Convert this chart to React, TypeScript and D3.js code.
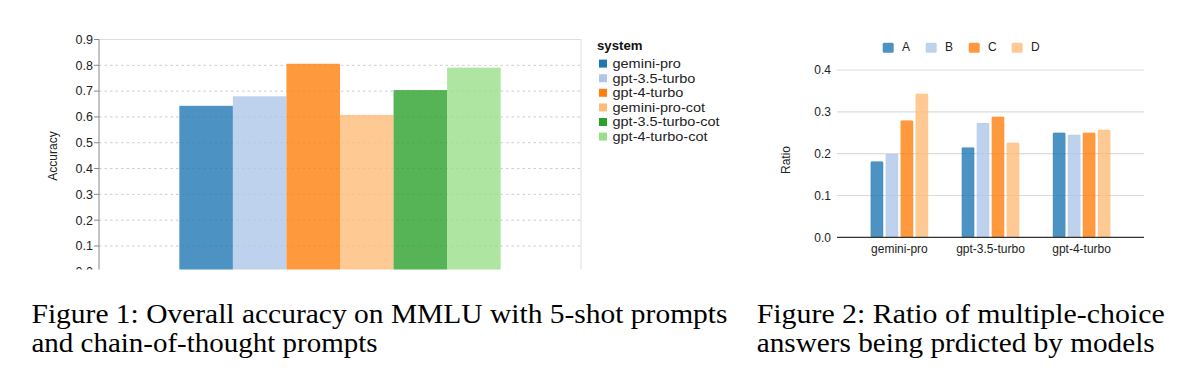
import React from 'react';
import * as d3 from 'd3';

// ---------- Figure 1 data ----------
const systems = ['gemini-pro', 'gpt-3.5-turbo', 'gpt-4-turbo', 'gemini-pro-cot', 'gpt-3.5-turbo-cot', 'gpt-4-turbo-cot'];
const accuracy = [0.643, 0.680, 0.806, 0.608, 0.704, 0.791];
const systemColors = ['#1f77b4', '#aec7e8', '#ff7f0e', '#ffbb78', '#2ca02c', '#98df8a'];
const accuracyTicks = [0, 0.1, 0.2, 0.3, 0.4, 0.5, 0.6, 0.7, 0.8, 0.9];

// ---------- Figure 2 data ----------
const models = ['gemini-pro', 'gpt-3.5-turbo', 'gpt-4-turbo'];
const choices = ['A', 'B', 'C', 'D'];
const ratioA = [0.181, 0.215, 0.250];
const ratioB = [0.199, 0.273, 0.245];
const ratioC = [0.279, 0.288, 0.250];
const ratioD = [0.343, 0.226, 0.257];
const choiceColors = ['#1f77b4', '#aec7e8', '#ff7f0e', '#ffbb78'];
const ratioTicks = [0, 0.1, 0.2, 0.3, 0.4];

const caption1 = ['Figure 1: Overall accuracy on MMLU with 5-shot prompts', 'and chain-of-thought prompts'];
const caption2 = ['Figure 2: Ratio of multiple-choice', 'answers being prdicted by models'];

const SANS = '"Liberation Sans", Arial, Helvetica, sans-serif';
const SERIF = '"Liberation Serif", "Times New Roman", serif';

function Figure1() {
  const left = 99, right = 581, top = 39.5, zeroY = 271.8, clipBottom = 269.5;
  const y = d3.scaleLinear().domain([0, 0.9]).range([zeroY, top]);
  const outer = d3.scaleBand<string>().domain(['all']).range([left, right]).paddingInner(0.2).paddingOuter(0.2);
  const inner = d3.scaleBand<string>().domain(systems).range([0, outer.bandwidth()]);
  const ox = outer('all') as number;
  const fmt = d3.format('.1f');
  return (
    <g>
      <defs>
        <clipPath id="clip1">
          <rect x={0} y={0} width={740} height={clipBottom} />
        </clipPath>
      </defs>
      <g clipPath="url(#clip1)">
        <line x1={left} x2={right} y1={top} y2={top} stroke="#ddd" />
        <line x1={right} x2={right} y1={top} y2={zeroY} stroke="#ddd" />
        {accuracyTicks.filter(t => t > 0 && t < 0.9).map(t => (
          <line key={t} x1={left} x2={right} y1={y(t)} y2={y(t)} stroke="#ccc" strokeDasharray="2.5,3" />
        ))}
        {systems.map((s, i) => (
          <rect key={s} x={ox + (inner(s) as number)} width={inner.bandwidth()} y={y(accuracy[i])}
            height={zeroY - y(accuracy[i])} fill={systemColors[i]} fillOpacity={0.8} />
        ))}
        <line x1={left} x2={left} y1={top} y2={zeroY} stroke="#888" />
        {accuracyTicks.map(t => (
          <g key={t}>
            <line x1={left - 5} x2={left} y1={y(t)} y2={y(t)} stroke="#888" />
            <text x={left - 6} y={y(t)} dy="0.35em" textAnchor="end" fontSize={12.5} fill="#222" fontFamily={SANS}>{fmt(t)}</text>
          </g>
        ))}
      </g>
      <text transform={`translate(57,156) rotate(-90)`} textAnchor="middle" fontSize={12} fill="#222" fontFamily={SANS}>Accuracy</text>
      {/* legend */}
      <text transform="translate(597,50) scale(1.1,1)" fontSize={12} fontWeight="bold" fill="#111" fontFamily={SANS}>system</text>
      {systems.map((s, i) => {
        const cy = 63.6 + i * 14.6;
        return (
          <g key={s}>
            <rect x={599} y={cy - 4} width={8} height={8} fill={systemColors[i]} />
            <text transform={`translate(612.5,${cy}) scale(1.16,1)`} dy="0.35em" fontSize={12.5} fill="#222" fontFamily={SANS}>{s}</text>
          </g>
        );
      })}
    </g>
  );
}

function Figure2() {
  const left = 837, right = 1144;
  const y = d3.scaleLinear().domain([0, 0.4]).range([237.3, 70]);
  const x0 = d3.scaleBand<string>().domain(models).range([left, right]).paddingInner(0.37).paddingOuter(0.37);
  const x1 = d3.scaleBand<string>().domain(choices).range([0, x0.bandwidth()]).paddingInner(0.17);
  const series = [ratioA, ratioB, ratioC, ratioD];
  const fmt = d3.format('.1f');
  return (
    <g fontFamily={SANS}>
      {ratioTicks.filter(t => t > 0).map(t => (
        <line key={t} x1={left} x2={right} y1={y(t)} y2={y(t)} stroke="#dcdcdc" strokeWidth={1.2} />
      ))}
      {models.map((m, mi) => (
        <g key={m} transform={`translate(${x0(m)},0)`}>
          {choices.map((c, ci) => (
            <rect key={c} x={x1(c)} width={x1.bandwidth()} y={y(series[ci][mi])}
              height={y(0) - y(series[ci][mi])} fill={choiceColors[ci]} fillOpacity={0.8}
              stroke={choiceColors[ci]} strokeOpacity={0.15} rx={1.2} />
          ))}
        </g>
      ))}
      <line x1={left} x2={right} y1={y(0)} y2={y(0)} stroke="#333" strokeWidth={1.2} />
      {ratioTicks.map(t => (
        <text key={t} x={831} y={y(t)} dy="0.35em" textAnchor="end" fontSize={12} fill="#222">{fmt(t)}</text>
      ))}
      {models.map(m => (
        <text key={m} x={(x0(m) as number) + x0.bandwidth() / 2} y={253} textAnchor="middle" fontSize={12} fill="#222">{m}</text>
      ))}
      <text transform={`translate(790,160) rotate(-90)`} textAnchor="middle" fontSize={12} fill="#222">Ratio</text>
      {choices.map((c, i) => (
        <g key={c}>
          <rect x={882.7 + i * 43} y={42.7} width={11} height={10} rx={1.5} fill={choiceColors[i]} fillOpacity={0.8} />
          <text x={902 + i * 43} y={51} fontSize={12} fill="#222">{c}</text>
        </g>
      ))}
    </g>
  );
}

export default function App() {
  return (
    <svg width={1200} height={372} style={{ position: 'absolute', left: 0, top: 0, background: '#fff' }}>
      <rect width={1200} height={372} fill="#fff" />
      <Figure1 />
      <Figure2 />
      <g fontFamily={SERIF} fill="#000">
        <text x={31.5} y={323.3} fontSize={27} textLength={696} lengthAdjust="spacingAndGlyphs">{caption1[0]}</text>
        <text x={31.5} y={351.7} fontSize={27} textLength={346} lengthAdjust="spacingAndGlyphs">{caption1[1]}</text>
        <text x={756.7} y={323.3} fontSize={27} textLength={408} lengthAdjust="spacingAndGlyphs">{caption2[0]}</text>
        <text x={756.7} y={352} fontSize={27} textLength={398} lengthAdjust="spacingAndGlyphs">{caption2[1]}</text>
      </g>
    </svg>
  );
}
